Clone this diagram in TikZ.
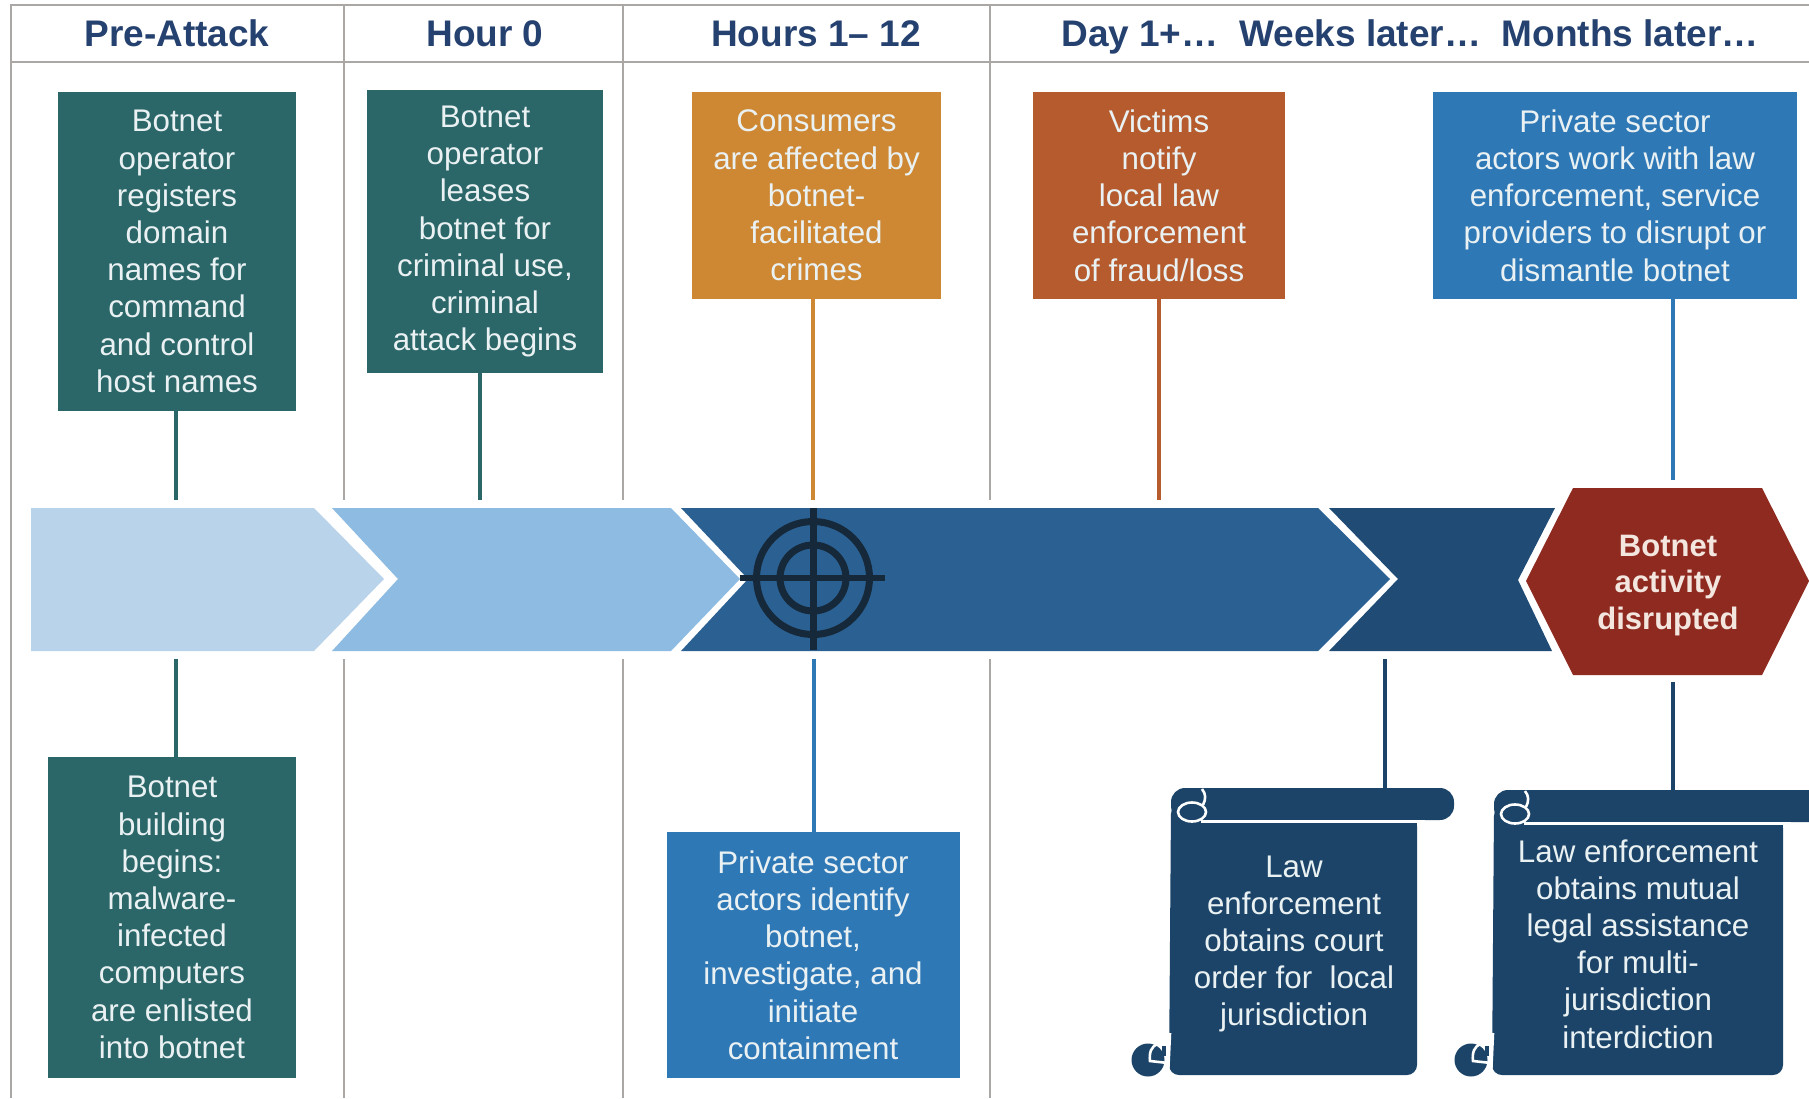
\documentclass[tikz,border=0pt]{standalone}
\usepackage{fontspec}
\setmainfont{Liberation Sans}
\definecolor{grid}{HTML}{ABA7A5}
\definecolor{head}{HTML}{25416F}
\definecolor{teal1}{HTML}{2B6668}
\definecolor{orng}{HTML}{CE8833}
\definecolor{rust}{HTML}{B55B2D}
\definecolor{blu}{HTML}{2F78B6}
\definecolor{deep}{HTML}{1B4468}
\definecolor{chA}{HTML}{B8D3EA}
\definecolor{chB}{HTML}{8DBBE2}
\definecolor{chC}{HTML}{2B6092}
\definecolor{chD}{HTML}{1F4B75}
\definecolor{hexr}{HTML}{8E2A20}
\definecolor{ink}{HTML}{16293A}
\definecolor{soft}{HTML}{EAF1F3}
\definecolor{cream}{HTML}{F3E6DF}
\tikzset{
  x=1pt,y=-1pt,
  gridline/.style={grid,line width=1.8pt},
  headtxt/.style={text=head,font=\fontsize{37}{42}\selectfont\bfseries,inner sep=0pt,anchor=base},
  box/.style={inner sep=0pt,align=center,text=soft,font=\fontsize{31.3}{37.2}\selectfont},
  link/.style={line width=3.4pt},
  curl/.style={white,line width=2.6pt},
}
% #1 left of body, #2 top of bar, #3 right end of bar, #4 right of body, #5 bottom
\newcommand{\scrollshape}[5]{%
  \fill[deep,rounded corners=10pt] (#1,#2+16) -- (#4,#2+16) -- (#4,#5) -- (#1-2,#5) -- cycle;
  \fill[deep,rounded corners=14pt] (#1,#2) rectangle (#3,#2+32);
  \fill[white] (#1+30,#2+32) rectangle (#4+8,#2+34.5);
  \fill[white] (#4,#2+34) rectangle (#4+8,#2+38);
  \draw[curl] (#1+21,#2+24) ellipse (14pt and 9.5pt);
  \draw[curl] (#1+31,#2+1) .. controls (#1+35,#2+6) and (#1+35,#2+11) .. (#1+32,#2+17);
  \fill[deep] (#1-23,#5-15) circle (16.5pt);
  \draw[curl] (#1-1,#5-42) -- (#1-3,#5+1);
  \draw[curl] (#1-13,#5-31) .. controls (#1-20,#5-29) and (#1-22,#5-22) .. (#1-21,#5-14) -- (#1-3,#5-12);
  \fill[deep] (#1-9,#5-29) rectangle (#1-5,#5-19);
}
\begin{document}
\begin{tikzpicture}
\useasboundingbox (0,0) rectangle (1809,1098);
\fill[white] (0,0) rectangle (1809,1098);
% frame
\coordinate (gridTL) at (11,5);
\coordinate (gridTR) at (1809,5);
\coordinate (gridHL) at (11,62);
\coordinate (gridHR) at (1809,62);
\draw[gridline] (gridTR) -- (gridTL) -- (11,1098);
\draw[gridline] (gridHL) -- (gridHR);
\foreach \gx in {344,623,990}{
  \draw[gridline] (\gx,5) -- (\gx,500);
  \draw[gridline] (\gx,659) -- (\gx,1098);
}
% header
\node[headtxt] (h1) at (177,46) {Pre-Attack};
\node[headtxt] (h2) at (485,46) {Hour 0};
\node[headtxt] (h3) at (816,46) {Hours 1– 12};
\node[headtxt] (h4) at (1410,46) {Day 1+…\ \ Weeks later…\ \ Months later…};
% band
\fill[chA] (31,508) -- (314,508) -- (384,579) -- (314,651) -- (31,651) -- cycle;
\fill[chB] (332,508) -- (671,508) -- (740,579) -- (671,651) -- (332,651) -- (398,579) -- cycle;
\fill[chC] (681,508) -- (1318,508) -- (1390,579) -- (1318,651) -- (681,651) -- (748,579) -- cycle;
\fill[chD] (1329,508) -- (1555,508) -- (1518,580) -- (1552,651) -- (1329,651) -- (1398,579) -- cycle;
% target
\coordinate (tgt) at (813,578);
\begin{scope}[ink,line width=7pt]
  \draw (tgt) circle (56.5pt);
  \draw (tgt) circle (33pt);
  \draw[line width=5.5pt] (740,578) -- (885,578);
  \draw (813,508) -- (813,650);
\end{scope}
% hexagon
\path[fill=hexr] (1526,581) -- (1573,488) -- (1762,488) -- (1809,581) -- (1762,675) -- (1573,675) -- cycle;
\node[inner sep=0pt,align=center,text=cream,font=\fontsize{31}{36.6}\selectfont\bfseries] (hexlabel) at (1668,585.5) {Botnet\\activity\\disrupted};
% boxes
\node[box,fill=teal1,minimum width=238pt,minimum height=319pt] (t1) at (177,251.5) {Botnet\\operator\\registers\\domain\\names for\\command\\and control\\host names};
\node[box,fill=teal1,minimum width=236pt,minimum height=283pt] (t2) at (485,231.5) {Botnet\\operator\\leases\\botnet for\\criminal use,\\criminal\\attack begins};
\node[box,fill=orng,minimum width=249pt,minimum height=207pt] (o1) at (816.5,195.5) {Consumers\\are affected by\\botnet-\\facilitated\\crimes};
\node[box,fill=rust,minimum width=252pt,minimum height=207pt] (r1) at (1159,195.5) {Victims\\notify\\local law\\enforcement\\of fraud/loss};
\node[box,fill=blu,minimum width=364pt,minimum height=207pt] (b1) at (1615,195.5) {Private sector\\actors work with law\\enforcement, service\\providers to disrupt or\\dismantle botnet};
\node[box,fill=teal1,minimum width=248pt,minimum height=321pt] (t3) at (172,917.5) {Botnet\\building\\begins:\\malware-\\infected\\computers\\are enlisted\\into botnet};
\node[box,fill=blu,minimum width=293pt,minimum height=246pt] (b2) at (813,955) {Private sector\\actors identify\\botnet,\\investigate, and\\initiate\\containment};
% scrolls
\scrollshape{1171}{788}{1454}{1417}{1075}
\scrollshape{1494}{790}{1830}{1783}{1075}
\node[box] (s1) at (1294,944) {Law\\enforcement\\obtains court\\order for\ \ local\\jurisdiction};
\node[box] (s2) at (1638,944) {Law enforcement\\obtains mutual\\legal assistance\\for multi-\\jurisdiction\\interdiction};
% connector ends
\coordinate (a1) at (176,500);
\coordinate (a2) at (480,500);
\coordinate (a3) at (813,500);
\coordinate (a4) at (1159,500);
\coordinate (a5) at (1673,480);
\coordinate (a6) at (176,659);
\coordinate (a7) at (814,659);
\coordinate (a8) at (1385,659);
\coordinate (a9) at (1673,682);
\coordinate (s1top) at (1385,788);
\coordinate (s2top) at (1673,790);
\draw[link,teal1] (t1.south -| a1) -- (a1);
\draw[link,teal1] (t2.south -| a2) -- (a2);
\draw[link,orng] (o1.south -| a3) -- (a3);
\draw[link,rust] (r1.south -| a4) -- (a4);
\draw[link,blu] (b1.south -| a5) -- (a5);
\draw[link,teal1] (a6) -- (t3.north -| a6);
\draw[link,blu] (a7) -- (b2.north -| a7);
\draw[link,deep] (a8) -- (s1top);
\draw[link,deep] (a9) -- (s2top);
\end{tikzpicture}
\end{document}
